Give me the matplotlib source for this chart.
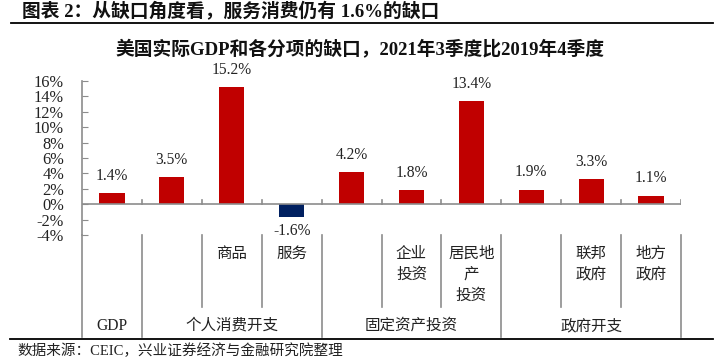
import matplotlib
matplotlib.use("Agg")
import matplotlib.pyplot as plt
from matplotlib.transforms import blended_transform_factory

# ---- data ----
sub_labels = ["", "", "商品", "服务", "", "企业\n投资", "居民地\n产\n投资", "", "联邦\n政府", "地方\n政府"]
values = [1.4, 3.5, 15.2, -1.6, 4.2, 1.8, 13.4, 1.9, 3.3, 1.1]
group_labels = ["GDP", "个人消费开支", "固定资产投资", "政府开支"]
group_spans = [(0, 1), (1, 4), (4, 7), (7, 10)]   # [start, end) category index
yticks = [-4, -2, 0, 2, 4, 6, 8, 10, 12, 14, 16]

title = "美国实际GDP和各分项的缺口，2021年3季度比2019年4季度"
header = "图表 2：从缺口角度看，服务消费仍有 1.6%的缺口"
source = "数据来源：CEIC，兴业证券经济与金融研究院整理"

RED = "#C00000"
NAVY = "#002060"
GRAY = "#8C8C8C"
TXT = "#222222"
FONT = ["Liberation Serif", "Noto Sans CJK SC", "DejaVu Sans"]
plt.rcParams["font.family"] = FONT

W, H = 721, 362
fig = plt.figure(figsize=(W / 100, H / 100), dpi=100)
# axes from x=82..681 px, y=81..235 px
ax = fig.add_axes([82 / W, (H - 235) / H, 599 / W, 154 / H])

x = list(range(len(values)))
colors = [NAVY if v < 0 else RED for v in values]
ax.bar(x, values, width=0.42, color=colors, zorder=3)

ax.set_xlim(-0.5, len(values) - 0.5)
ax.set_ylim(-4, 16)
ax.set_yticks(yticks)
ax.set_yticklabels([f"{t}%" for t in yticks], fontsize=11.8, color=TXT)
ax.tick_params(axis="y", direction="in", length=4, color=GRAY, pad=13)
ax.set_xticks([])
for s in ["top", "right", "bottom"]:
    ax.spines[s].set_visible(False)
ax.spines["left"].set_color(GRAY)
ax.spines["left"].set_linewidth(1.2)

# zero line with inward ticks at category boundaries
ax.axhline(0, color=GRAY, lw=1.2, zorder=4)
for b in range(1, len(values) + 1):
    ax.plot([b - 0.5, b - 0.5], [0, 0.5], color=GRAY, lw=1.2, zorder=4)

# value labels
for xi, v in zip(x, values):
    if v >= 0:
        ax.text(xi, v + 1.2, f"{v:.1f}%", ha="center", va="bottom", fontsize=11.2, color=TXT)
    else:
        ax.text(xi, v - 0.9, f"{v:.1f}%", ha="center", va="top", fontsize=11.2, color=TXT)

# category separators below the axes
tr = blended_transform_factory(ax.transData, ax.transAxes)
def ya(ypix):
    return (235 - ypix) / 154

group_edges = set()
for a, b in group_spans:
    group_edges.add(a)
    group_edges.add(b)
for b in range(0, len(values) + 1):
    bottom = 337 if b in group_edges else 307
    ax.plot([b - 0.5, b - 0.5], [0, ya(bottom)], transform=tr, color=GRAY,
            lw=1.2, clip_on=False)

# sub labels
for xi, lab in zip(x, sub_labels):
    if lab:
        ax.text(xi, ya(246), lab, transform=tr, ha="center", va="top",
                fontsize=11.2, color=TXT, linespacing=1.42)

# group labels
for lab, (a, b) in zip(group_labels, group_spans):
    ax.text((a + b - 1) / 2, ya(326), lab, transform=tr, ha="center", va="center",
            fontsize=11.2, color=TXT)

# title / header / footer
fig.text(360 / W, 1 - 50 / H, title, ha="center", va="center", fontsize=13.5,
         fontweight="bold", color="#111111")
fig.text(22 / W, 1 - 12 / H, header, ha="left", va="center", fontsize=13.5,
         fontweight="bold", color="#111111")
fig.add_artist(plt.Line2D([11 / W, 713 / W], [1 - 23 / H, 1 - 23 / H], color="black", lw=1.3))
fig.add_artist(plt.Line2D([10 / W, 713 / W], [1 - 339 / H, 1 - 339 / H], color="black", lw=1.3))
fig.text(17 / W, 1 - 351 / H, source, ha="left", va="center", fontsize=10.5, color=TXT)

fig.savefig("out.png", dpi=100)
